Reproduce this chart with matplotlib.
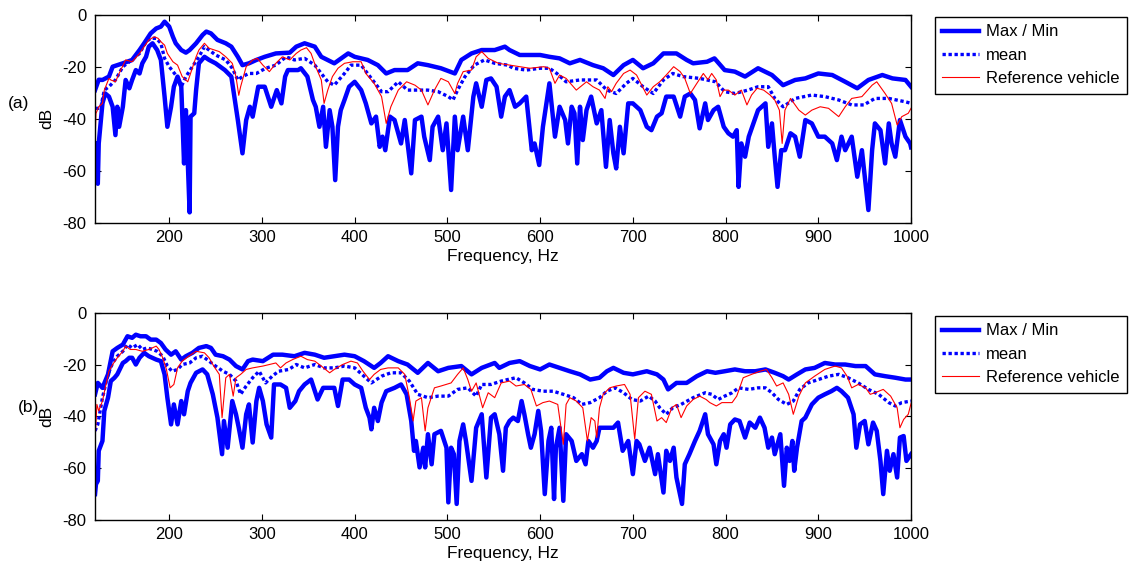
import numpy as np
import matplotlib
matplotlib.use("Agg")
import matplotlib.pyplot as plt

plt.rcParams['font.family'] = ['Liberation Sans', 'DejaVu Sans']
plt.rcParams['font.size'] = 11
plt.rcParams['axes.unicode_minus'] = False

# ---------------- (a) ----------------
a_max_f = [120, 124, 128, 135, 139, 150, 160, 168, 173, 180, 186, 191, 195, 200, 204, 207, 213, 218, 222, 229,
           236, 240, 245, 252, 261, 267, 274, 279, 286, 294, 303, 315, 330, 337, 346, 357, 364, 378, 393, 400,
           414, 425, 434, 443, 457, 468, 479, 493, 508, 515, 526, 537, 551, 562, 567, 578, 600, 610, 621, 632,
           643, 657, 668, 679, 690, 700, 711, 722, 733, 747, 758, 765, 780, 788, 799, 810, 821, 835, 850, 862,
           875, 886, 900, 915, 929, 942, 954, 969, 980, 994, 1000]
a_max_db = [-29, -25, -25.1, -23.8, -20, -18.7, -17.4, -13.6, -11, -7.2, -5.3, -4.6, -2.7, -4.6, -8.5, -11, -13.6, -14.6, -13.6, -11,
            -7.8, -6.5, -7.2, -9.7, -11, -12.3, -16.2, -19.4, -18.7, -17.4, -16.2, -14.9, -14.6, -12.3, -11, -12.3, -16.2, -18.7, -14.9, -16.2,
            -17.4, -19.4, -22.6, -21.3, -21.3, -18.7, -19.4, -20.6, -22.6, -17.4, -14.9, -13.6, -13.6, -12.3, -13.6, -15.5, -15.5, -16.2, -16.8, -18.7,
            -17.4, -19.4, -20.6, -23.2, -19.4, -17.4, -20.6, -18.7, -14.9, -14.9, -17.4, -18.7, -18.1, -16.8, -21.3, -21.9, -23.8, -20.6, -23.2, -27.1,
            -25.1, -24.5, -22.6, -23.2, -25.8, -28.3, -25.1, -23.2, -24.5, -25.1, -27.7]

a_mean_f = [121, 126, 130, 135, 142, 150, 157, 168, 175, 180, 186, 191, 195, 200, 207, 213, 218, 225, 232, 238,
            243, 250, 261, 268, 274, 279, 286, 294, 304, 315, 326, 335, 346, 357, 364, 371, 378, 389, 396, 407,
            418, 429, 436, 447, 457, 468, 479, 490, 501, 506, 511, 519, 529, 540, 551, 565, 571, 585, 600, 610,
            618, 628, 643, 661, 672, 682, 693, 700, 711, 722, 733, 743, 754, 772, 789, 799, 810, 824, 835, 846,
            853, 862, 875, 893, 907, 922, 936, 949, 961, 976, 994, 1000]
a_mean_db = [-36, -36, -29, -27.7, -25.1, -20, -18.1, -14.9, -10.4, -9.1, -9.1, -11, -16.8, -20, -23.2, -27.7, -23.8, -20, -16.2, -12.3,
             -13.6, -15.5, -17.4, -20.6, -25.1, -23.8, -22.6, -22.6, -20.6, -19.4, -16.2, -17.4, -16.8, -19.4, -22.6, -25.8, -27.1, -22.6, -19.4, -19.4,
             -24.5, -29.6, -29.6, -25.8, -29, -29, -29, -29.6, -31.5, -32.8, -29, -23.8, -19.4, -17.4, -18.7, -19.4, -20.6, -21.3, -20.6, -20.6,
             -22.6, -25.8, -25.1, -25.1, -29, -30.3, -26.4, -24.5, -27.7, -30.3, -25.1, -22.6, -23.8, -24.5, -25.8, -29.6, -30.3, -29, -27.7, -27.7,
             -32.2, -35.4, -32.2, -30.9, -31.5, -32.8, -34.7, -34.7, -32.2, -32.2, -33.5, -34.1]

a_ref_f = [120, 121, 124, 128, 130, 135, 137, 142, 146, 153, 160, 168, 173, 178, 184, 188, 191, 195, 198, 204,
           209, 214, 220, 223, 229, 232, 238, 243, 249, 254, 261, 268, 272, 275, 277, 283, 290, 295, 301, 308,
           315, 322, 330, 337, 342, 348, 353, 358, 364, 367, 371, 376, 382, 389, 398, 407, 412, 421, 429, 434,
           439, 447, 456, 465, 472, 479, 486, 493, 501, 508, 511, 517, 526, 531, 537, 544, 555, 567, 578, 589,
           604, 610, 616, 621, 628, 639, 650, 657, 664, 670, 673, 677, 682, 690, 697, 704, 715, 722, 729, 736,
           744, 751, 756, 762, 769, 776, 781, 785, 790, 794, 798, 803, 810, 817, 823, 828, 834, 841, 848, 853,
           858, 861, 864, 870, 879, 886, 893, 902, 911, 922, 929, 936, 947, 958, 963, 972, 979, 985, 990, 997, 1000]
a_ref_db = [-49.5, -38, -35.4, -34.1, -29, -24.5, -25.1, -25.8, -22.6, -17.4, -18.1, -14.9, -12.3, -9.7, -8.5, -9.1, -10.4, -11.7, -14.9, -18.1,
            -19.4, -23.8, -25.8, -22.6, -16.2, -13.6, -11, -12.9, -13.6, -14.2, -16.2, -18.7, -23.8, -31, -27.7, -20, -17.4, -16.8, -19.4, -21.9,
            -18.7, -16.2, -17.4, -14.9, -13.6, -12.7, -14.9, -20, -25.1, -34.1, -29, -23.8, -20.6, -18.7, -18.1, -18.1, -22.6, -26.4, -31.5, -41.8,
            -35.4, -29, -25.8, -27.1, -29, -34.7, -29, -24.5, -25.8, -30.3, -26.4, -21.9, -21.3, -16.2, -14.2, -16.8, -18.7, -19.4, -20, -20.6,
            -20, -20.6, -26.4, -23.2, -24.5, -29, -25.8, -27.7, -29, -32.2, -27.7, -29.6, -26.4, -22.6, -21.3, -23.2, -30.9, -27.7, -25.8, -23.2,
            -20, -21.9, -24.5, -30.3, -26.4, -22.6, -25, -22.6, -25.1, -31.5, -29, -29, -30.9, -29, -34.7, -30.9, -28.3, -29, -30.9, -32.8,
            -36.7, -49.5, -36.7, -32.2, -36.7, -38.6, -36.7, -35.4, -36, -39.2, -35.4, -32.2, -31.5, -27.1, -25.8, -30.3, -34.1, -42.4, -39.2, -37.9, -36]

a_min_f = [120, 121, 123, 124, 128, 131, 135, 139, 142, 144, 146, 150, 153, 157, 160, 164, 168, 171, 175, 178,
           182, 187, 191, 195, 198, 202, 205, 209, 213, 216, 218, 222, 223, 227, 229, 232, 238, 243, 250, 260,
           267, 274, 279, 283, 287, 290, 296, 303, 310, 316, 321, 325, 328, 339, 342, 349, 355, 358, 362, 366,
           369, 373, 376, 379, 382, 385, 389, 394, 400, 407, 412, 418, 423, 427, 430, 433, 438, 443, 450, 454,
           461, 465, 472, 475, 481, 484, 490, 495, 499, 504, 508, 511, 517, 522, 528, 531, 537, 542, 547, 553,
           558, 562, 567, 573, 578, 585, 591, 594, 599, 603, 610, 616, 621, 627, 630, 634, 637, 640, 643, 646,
           650, 655, 661, 666, 671, 675, 679, 682, 686, 690, 695, 700, 708, 715, 720, 726, 731, 736, 744, 751,
           756, 762, 767, 772, 778, 781, 787, 792, 798, 803, 808, 812, 814, 817, 821, 825, 830, 835, 843, 846,
           850, 853, 856, 860, 864, 870, 875, 880, 886, 893, 900, 907, 915, 920, 925, 929, 936, 942, 947, 954,
           958, 961, 967, 972, 976, 979, 983, 988, 994, 999, 1000]
a_min_db = [-49.5, -58.5, -65, -49.5, -34.1, -30.3, -31.5, -35.4, -46.3, -35.4, -43.1, -35.4, -25.1, -28.3, -25.1, -21.3, -22.6, -18.7, -16.2, -12.3,
            -11, -13.6, -17.4, -31.5, -43.1, -35.4, -27.7, -23.8, -27.7, -57.2, -36.7, -76, -39.2, -37.9, -29, -18.7, -16.2, -17.4, -18.7, -21.3,
            -23.8, -40.5, -53.3, -40.5, -35.4, -39.2, -27.7, -27.7, -35.4, -29, -34.1, -23.8, -21.3, -21.3, -20.6, -23.8, -32.8, -35.4, -43.1, -35.4,
            -50.8, -36.7, -43.1, -63.6, -43.1, -36.7, -32.8, -27.7, -25.8, -29, -34.1, -41.8, -39.2, -50.8, -46.9, -52.1, -39.2, -40.5, -49.5, -40.5,
            -61, -40.5, -39.2, -46.9, -55.9, -43.1, -39.2, -52.1, -41.8, -67.4, -39.2, -52.1, -39.2, -52.1, -31.5, -26.4, -35.4, -25.1, -24.5, -27.7,
            -39.2, -31.5, -29, -35.4, -34.1, -31.5, -52.1, -49.5, -57.8, -43.1, -26.4, -46.9, -35.4, -40.5, -49.5, -35.4, -37.9, -57.2, -35.4, -48.2,
            -36.7, -31.5, -41.8, -36.7, -58.5, -40.5, -53.3, -59.1, -43.1, -53.3, -34.1, -34.1, -36.7, -43.1, -44.4, -39.2, -37.9, -31.5, -31.5, -39.2,
            -31.5, -30.3, -32.8, -43.7, -34.1, -40.5, -36.7, -35.4, -43.1, -45.6, -46.9, -44.4, -66.2, -49.5, -54.6, -46.9, -41.8, -36.7, -34.1, -50.8,
            -41.8, -54.6, -66.2, -52.1, -52.1, -45.6, -46.9, -54.6, -40.5, -41.8, -46.9, -46.9, -49.5, -55.9, -46.9, -52.1, -46.9, -62.3, -52.1, -75.1,
            -52.1, -41.8, -44.4, -57.2, -41.8, -49.5, -54.6, -40.5, -46.9, -49.5, -51]

# ---------------- (b) ----------------
b_max_f = [120, 123, 128, 134, 139, 144, 150, 155, 160, 164, 169, 175, 180, 186, 191, 196, 202, 207, 213, 218,
           225, 232, 240, 245, 250, 258, 265, 272, 279, 285, 290, 301, 312, 322, 335, 346, 357, 367, 378, 389,
           400, 410, 421, 428, 436, 447, 457, 468, 479, 490, 501, 515, 526, 537, 551, 556, 567, 578, 589, 600,
           610, 621, 632, 643, 654, 664, 672, 679, 690, 700, 715, 726, 733, 738, 747, 758, 769, 780, 789, 799,
           810, 821, 832, 843, 853, 862, 868, 877, 886, 896, 907, 918, 929, 940, 951, 961, 972, 983, 994, 1000]
b_max_db = [-31.5, -27.1, -29, -23.8, -14.9, -13.6, -12.3, -9.1, -9.7, -8.5, -9.1, -9.1, -10.4, -10.4, -11.7, -14.2, -16.2, -14.9, -18.1, -16.8,
            -15.5, -13.6, -12.9, -13.6, -16.2, -16.8, -18.1, -20.6, -21.9, -18.7, -18.1, -18.7, -16.2, -16.2, -16.8, -15.5, -16.2, -17.4, -16.8, -16.2,
            -16.8, -18.7, -21.3, -19.4, -16.8, -18.7, -20, -23.2, -19.4, -22.6, -21.3, -20.6, -23.8, -21.3, -19.4, -21.3, -19.4, -18.7, -20.6, -21.9,
            -20, -21.3, -22.6, -23.8, -25.8, -25.1, -22.6, -21.3, -23.2, -23.8, -22.6, -23.8, -25.8, -29.6, -27.1, -27.1, -24.5, -22.6, -23.2, -22.6,
            -21.9, -22.6, -22.6, -21.9, -23.2, -24.5, -25.8, -23.8, -21.9, -21.3, -19.4, -20, -20, -20.6, -20.6, -23.8, -24.5, -25.1, -25.8, -25.8]

b_mean_f = [120, 123, 128, 134, 139, 144, 150, 155, 160, 166, 171, 176, 182, 187, 193, 198, 203, 209, 214, 222,
            229, 236, 243, 250, 258, 265, 272, 277, 283, 290, 297, 304, 311, 318, 329, 337, 346, 357, 367, 378,
            389, 400, 410, 418, 429, 439, 450, 459, 468, 479, 490, 501, 511, 522, 531, 537, 547, 558, 565, 574,
            583, 592, 603, 614, 625, 636, 645, 654, 664, 672, 681, 690, 699, 708, 717, 724, 729, 736, 743, 752,
            765, 778, 785, 792, 799, 807, 814, 825, 835, 843, 850, 857, 866, 873, 880, 889, 900, 911, 922, 932,
            943, 954, 965, 976, 983, 990, 1000]
b_mean_db = [-45.6, -43.1, -32.8, -23.8, -19.4, -16.8, -14.9, -12.3, -13.6, -12.3, -14.2, -13.6, -14.2, -14.9, -16.8, -20.6, -22.6, -21.9, -20, -19.4,
             -17.4, -16.8, -18.7, -20.6, -22.6, -23.8, -26.4, -31.5, -28.3, -25.1, -22.6, -27.1, -24.5, -22.6, -21.9, -20, -21.3, -20, -21.3, -21.3,
             -20.6, -21.3, -24.5, -27.1, -24.5, -23.2, -23.2, -26.4, -31.5, -32.8, -32.2, -32.2, -29.6, -29, -32.2, -27.7, -27.7, -26.4, -25.8, -25.1,
             -27.1, -29.6, -30.3, -30.3, -31.5, -32.8, -35.4, -34.7, -32.8, -30.3, -29, -30.9, -33.5, -34.1, -32.2, -34.1, -36.7, -39.2, -36.7, -35.4,
             -32.8, -30.9, -31.5, -33.5, -32.2, -30.9, -29, -29.6, -29, -29, -30.9, -33.5, -35.4, -34.1, -29.6, -27.1, -25.8, -24.5, -23.8, -25.1,
             -27.1, -29.6, -31.5, -34.7, -36, -34.7, -34.1]

b_ref_f = [120, 122, 124, 128, 131, 135, 139, 144, 150, 153, 158, 164, 171, 178, 186, 189, 193, 197, 201, 205,
           209, 214, 221, 229, 238, 243, 248, 254, 257, 261, 265, 269, 272, 277, 283, 290, 301, 308, 315, 320,
           326, 333, 342, 349, 357, 364, 373, 378, 387, 396, 403, 409, 416, 421, 428, 436, 447, 454, 459, 463,
           466, 472, 476, 479, 486, 493, 504, 511, 517, 522, 526, 531, 538, 544, 551, 558, 567, 574, 583, 590,
           596, 603, 610, 619, 625, 628, 632, 639, 646, 651, 655, 659, 661, 664, 668, 675, 682, 691, 697, 702,
           706, 713, 720, 726, 731, 736, 742, 747, 752, 758, 765, 772, 779, 783, 790, 796, 807, 812, 819, 828,
           837, 844, 850, 855, 862, 868, 873, 879, 886, 896, 907, 918, 925, 931, 936, 943, 951, 956, 961, 970,
           978, 985, 988, 992, 997, 1000]
b_ref_db = [-49.5, -35.4, -37.9, -34.1, -29, -22.6, -20, -17.4, -14.9, -12.9, -14.2, -14.2, -14.9, -14.2, -12.9, -14.2, -17.4, -21.9, -29, -27.7,
            -21.3, -18.7, -16.8, -14.9, -15.5, -17.4, -20.6, -23.8, -40.5, -25.1, -23.8, -32.2, -25.1, -23.8, -21.9, -21.3, -20.6, -20, -19.4, -21.3,
            -19.4, -18.1, -16.8, -18.1, -18.7, -20.6, -23.2, -21.9, -20, -18.7, -19.4, -22.6, -25.8, -23.8, -21.9, -21.3, -21.3, -23.8, -32.8, -41.8,
            -34.1, -32.8, -45.6, -36.7, -29, -28.3, -27.1, -23.8, -21.3, -25.8, -30.3, -27.1, -36.7, -30.9, -32.8, -27.1, -26.4, -28.3, -27.7, -29.6,
            -36, -34.7, -34.1, -35.4, -50.8, -35.4, -32.8, -34.1, -36.7, -49.5, -40.5, -41.8, -48.2, -36.7, -31.5, -29, -28.3, -27.7, -31.5, -48.8,
            -32.8, -30.3, -31.5, -41.8, -40.5, -42.4, -36.7, -35.4, -40.5, -36, -33.5, -32.2, -33.5, -34.7, -36, -34.7, -34.7, -32.2, -25.1, -23.8,
            -22.6, -21.9, -25.1, -28.3, -27.1, -31.5, -39.2, -32.2, -27.1, -24.5, -21.9, -20.6, -21.3, -24.5, -29, -27.7, -29, -31.5, -30.9, -29.6,
            -32.2, -36.7, -44.4, -41.2, -39.2, -35]

b_min_f = [120, 121, 123, 124, 128, 130, 134, 137, 141, 144, 150, 153, 157, 160, 164, 168, 173, 178, 186, 191,
           195, 198, 202, 205, 209, 213, 216, 220, 223, 229, 236, 241, 247, 252, 257, 259, 263, 268, 272, 275,
           279, 283, 286, 290, 294, 297, 301, 305, 310, 313, 320, 326, 330, 336, 340, 346, 353, 360, 366, 373,
           378, 382, 387, 394, 400, 407, 412, 416, 418, 421, 425, 429, 434, 443, 450, 456, 461, 464, 466, 470,
           474, 476, 479, 483, 486, 493, 499, 501, 504, 507, 510, 513, 517, 520, 526, 531, 537, 542, 547, 551,
           556, 560, 563, 567, 571, 576, 580, 583, 587, 590, 594, 598, 601, 605, 609, 612, 615, 617, 621, 625,
           628, 634, 639, 645, 649, 652, 657, 661, 664, 671, 679, 684, 689, 695, 700, 704, 707, 713, 718, 724,
           727, 733, 736, 740, 744, 747, 753, 756, 761, 767, 772, 778, 781, 787, 790, 794, 798, 801, 805, 810,
           815, 821, 826, 832, 837, 842, 846, 850, 853, 859, 863, 866, 869, 872, 874, 877, 882, 886, 893, 900,
           907, 914, 920, 925, 932, 938, 941, 945, 950, 954, 959, 963, 967, 970, 974, 977, 981, 985, 988, 992,
           995, 1000]
b_min_db = [-70, -66.2, -64.9, -53.3, -49.5, -37.9, -32.8, -26.4, -25.1, -23.8, -19.4, -18.7, -17.4, -17.4, -20, -17.4, -15.5, -16.8, -18.1, -18.7,
            -23.8, -32.8, -43.1, -35.4, -43.1, -34.1, -39.2, -30.3, -27.1, -23.2, -21.9, -23.8, -31.5, -40.5, -54.6, -41.8, -52.1, -34.1, -39.2, -44.4,
            -52.1, -39.2, -35.4, -50.1, -34.1, -29, -34.1, -43.1, -48.2, -27.7, -27.7, -29, -36.7, -34.1, -30.3, -27.7, -25.8, -33.5, -29, -29,
            -29, -36, -25.8, -25.8, -27.7, -29, -36.7, -40.5, -45, -36.7, -41.8, -34.7, -30.3, -29, -27.7, -31.5, -41.8, -53.3, -49.5, -59.7,
            -52.1, -59.7, -46.9, -58.5, -46.9, -45.6, -52.1, -73.2, -52.1, -54.6, -73.8, -49.5, -43.1, -49.5, -64.9, -44.4, -39.2, -63.6, -40.5, -39.2,
            -46.9, -61, -44.4, -41.8, -40.5, -41.8, -34.1, -39.2, -46.9, -52.1, -46.9, -37.9, -45.6, -70, -49.5, -44.4, -71.9, -52.1, -44.4, -72.6,
            -46.9, -49.5, -57.2, -54.6, -58.5, -49.5, -52.1, -49.5, -44.4, -44.4, -44.4, -42.4, -53.3, -49.5, -62.3, -49.5, -50.8, -57.2, -52.1, -62.3,
            -54.6, -69.4, -53.3, -57.2, -52.1, -63.6, -73.8, -58.5, -54.6, -49.5, -45.6, -39.2, -46.9, -50.8, -58.5, -49.5, -46.9, -52.1, -43.1, -41.2,
            -41.8, -48.2, -42.4, -44.4, -40.5, -44.4, -52.1, -48.2, -54.6, -46.9, -66.8, -52.1, -57.2, -49.5, -61, -52.1, -41.8, -40.5, -35.4, -32.8,
            -31.5, -30.3, -29, -30.3, -32.8, -39.2, -52.1, -43.1, -41.8, -50.8, -42.4, -45.6, -57.2, -70, -53.3, -61, -54.6, -63.6, -48.2, -47.6,
            -57.2, -54.6]

panels = [
    ("(a)", a_max_f, a_max_db, a_min_f, a_min_db, a_mean_f, a_mean_db, a_ref_f, a_ref_db),
    ("(b)", b_max_f, b_max_db, b_min_f, b_min_db, b_mean_f, b_mean_db, b_ref_f, b_ref_db),
]

blue = (0, 0, 1)
fig = plt.figure(figsize=(11.34, 5.64), dpi=100)
ax_rects = [[0.0838, 0.605, 0.7196, 0.369], [0.0838, 0.078, 0.7196, 0.3676]]
leg_tops = [0.97, 0.44]
tag_pos = [(0.007, 0.817), (0.016, 0.277)]

for k, (tag, fx, yx, fn, yn, fm, ym, fr, yr) in enumerate(panels):
    ax = fig.add_axes(ax_rects[k])
    l1, = ax.plot(fx, yx, color=blue, lw=3.2, label='Max / Min')
    ax.plot(fn, yn, color=blue, lw=3.2)
    l2, = ax.plot(fm, ym, color=blue, lw=2.4, linestyle=(0, (1.0, 0.8)), label='mean')
    l3, = ax.plot(fr, yr, color='red', lw=0.8, label='Reference vehicle')
    ax.set_xlim(120, 1000)
    ax.set_ylim(-80, 0)
    ax.set_xticks(np.arange(200, 1001, 100))
    ax.set_yticks([-80, -60, -40, -20, 0])
    ax.tick_params(direction='in', top=True, right=True, length=4, width=0.8, labelsize=12)
    ax.tick_params(axis='x', pad=5)
    ax.tick_params(axis='y', pad=6)
    for s in ax.spines.values():
        s.set_linewidth(1.0)
    ax.set_xlabel('Frequency, Hz', fontsize=12.5, labelpad=3)
    ax.set_ylabel('dB', fontsize=12.5)
    ax.yaxis.set_label_coords(-0.05, 0.5)
    fig.text(tag_pos[k][0], tag_pos[k][1], tag, fontsize=12.5, ha='left', va='center')
    fig.legend(handles=[l1, l2, l3], loc='upper left', bbox_to_anchor=(0.8245, leg_tops[k]),
               bbox_transform=fig.transFigure, borderaxespad=0, fancybox=False, framealpha=1,
               edgecolor='black', fontsize=12, handlelength=2.2, labelspacing=0.5,
               borderpad=0.45, handletextpad=0.4)

fig.savefig('out.png', dpi=100)
